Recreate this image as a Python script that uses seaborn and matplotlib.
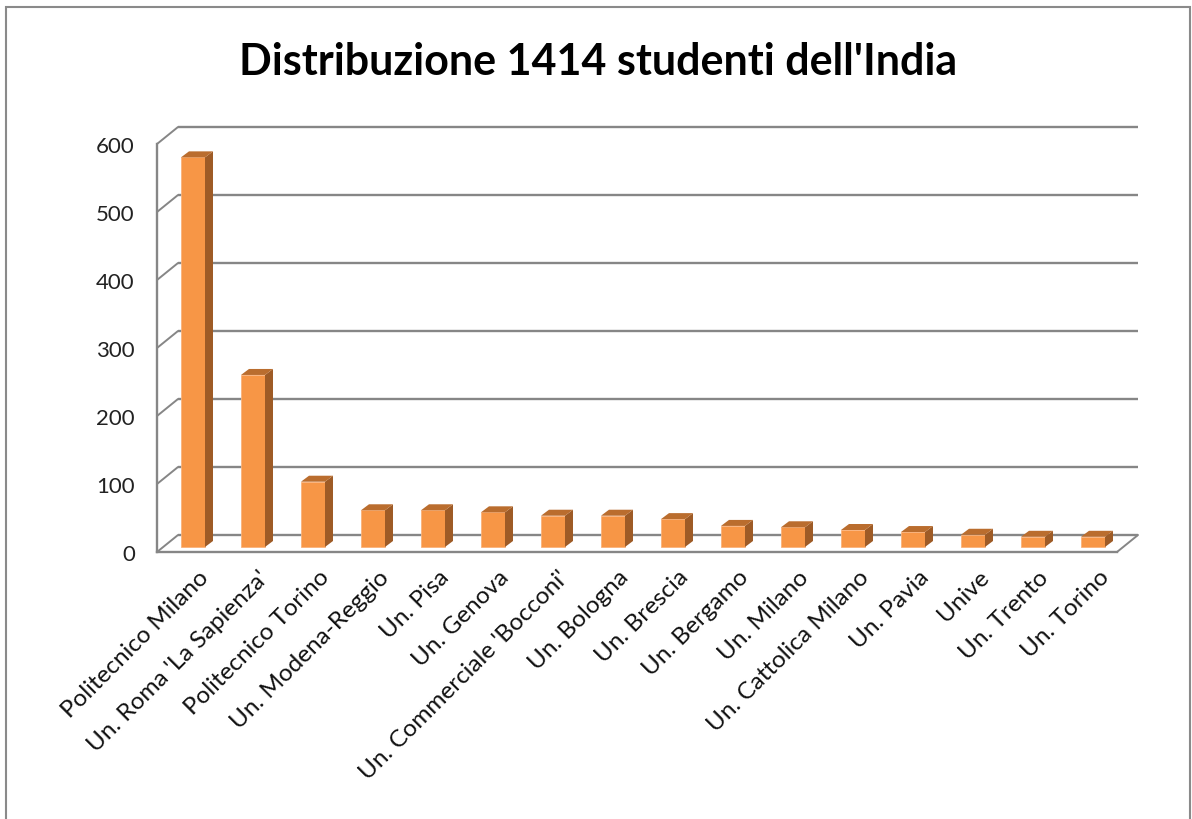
import numpy as np
import pandas as pd
import matplotlib
matplotlib.use('Agg')
import matplotlib.pyplot as plt
import matplotlib.transforms as mtrans
from matplotlib.patches import Polygon, Rectangle
import seaborn as sns

# data
universita = ["Politecnico Milano", "Un. Roma 'La Sapienza'", "Politecnico Torino",
              "Un. Modena-Reggio", "Un. Pisa", "Un. Genova", "Un. Commerciale 'Bocconi'",
              "Un. Bologna", "Un. Brescia", "Un. Bergamo", "Un. Milano",
              "Un. Cattolica Milano", "Un. Pavia", "Unive", "Un. Trento", "Un. Torino"]
studenti = [573, 253, 96, 54, 54, 51, 46, 46, 41, 31, 29, 25, 22, 18, 15, 15]
yticks = [0, 100, 200, 300, 400, 500, 600]
titolo = "Distribuzione 1414 studenti dell'India"

sns.set_style("white")
plt.rcParams['font.family'] = ['Lato', 'DejaVu Sans']

W, H = 1192, 820
fig = plt.figure(figsize=(W / 100, H / 100), dpi=100)
ax = fig.add_axes([157 / W, (H - 553) / H, 960 / W, 408 / H])

df = pd.DataFrame({"uni": universita, "n": studenti})
front = '#F79646'
side = '#9E5B26'
top = '#BA6D2E'
grid = '#868686'
sns.barplot(data=df, x="uni", y="n", color=front, saturation=1, width=0.4, ax=ax,
            edgecolor='#FBB27A', linewidth=0.6, zorder=3)
ax.set_xlim(-0.5, len(universita) - 0.5)
ax.set_ylim(0, 600)

# pixel -> data scale
px_x = len(universita) / 960.0
px_y = 600 / 408.0
dx, dy = 8 * px_x, 6 * px_y          # depth of the bar
sx, sy = 6 * px_x, 5 * px_y          # bars set back from the floor front edge

for p in ax.patches:
    x0 = p.get_x() + sx
    y0 = p.get_y() + sy
    w, h = p.get_width(), p.get_height()
    p.set_x(x0)
    p.set_y(y0)
    x1, y1 = x0 + w, y0 + h
    ax.add_patch(Polygon([(x1, y0), (x1 + dx, y0 + dy), (x1 + dx, y1 + dy), (x1, y1)],
                         closed=True, fc=side, ec='none', zorder=3, clip_on=False))
    ax.add_patch(Polygon([(x0, y1), (x0 + dx, y1 + dy), (x1 + dx, y1 + dy), (x1, y1)],
                         closed=True, fc=top, ec='none', zorder=3, clip_on=False))

# back wall gridlines (offset into the depth)
back = ax.transData + mtrans.ScaledTranslation(0.21, 0.17, fig.dpi_scale_trans)
ax.hlines(yticks, -0.5, len(universita) - 0.5, colors=grid, lw=1.7,
          transform=back, clip_on=False, zorder=1)
for v in yticks:
    ax.annotate('', xy=(-0.5, v), xytext=(21, 17), textcoords='offset pixels',
                arrowprops=dict(arrowstyle='-', color=grid, lw=1.4, shrinkA=0, shrinkB=0),
                annotation_clip=False)
ax.annotate('', xy=(len(universita) - 0.5, 0), xytext=(21, 17), textcoords='offset pixels',
            arrowprops=dict(arrowstyle='-', color=grid, lw=1.4, shrinkA=0, shrinkB=0),
            annotation_clip=False)

for s in ['top', 'right']:
    ax.spines[s].set_visible(False)
for s in ['left', 'bottom']:
    ax.spines[s].set_color(grid)
    ax.spines[s].set_linewidth(1.7)

ax.set_yticks(yticks)
ax.set_yticklabels([str(v) for v in yticks], fontsize=16, color='#222222')
ax.tick_params(axis='y', direction='out', length=5, width=1.4, color=grid, pad=11)

ax.set_xticks(np.arange(len(universita)))
ax.set_xticklabels(universita, rotation=45, ha='right', rotation_mode='anchor',
                   fontsize=17.5, color='#111111')
ax.set_xticks(np.arange(-0.5, len(universita)), minor=True)
ax.tick_params(axis='x', which='major', length=0, pad=10)
ax.tick_params(axis='x', which='minor', direction='out', length=8, width=1.4, color=grid)
for lab in ax.get_xticklabels():
    lab.set_transform(lab.get_transform() + mtrans.ScaledTranslation(0.11, 0, fig.dpi_scale_trans))
ax.set_xlabel('')
ax.set_ylabel('')
ax.grid(False)

fig.text(598 / W, 1 - 62 / H, titolo, ha='center', va='center', fontsize=31, fontweight='bold',
         color='#000000')

# chart area border
fig.add_artist(Rectangle((6 / W, -0.05), (1190 - 6) / W, 1 - 8 / H + 0.05,
                         transform=fig.transFigure, fill=False, ec='#8a8a8a', lw=1.5))

fig.savefig('out.png', dpi=100, facecolor='white')
